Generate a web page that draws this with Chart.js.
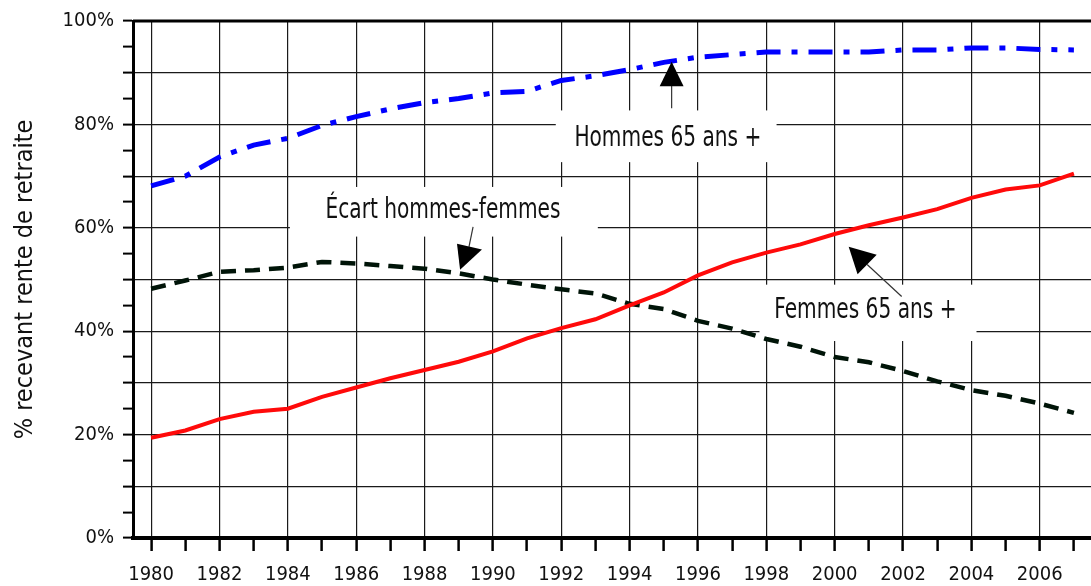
<!DOCTYPE html>
<html><head><meta charset="utf-8">
<script src="https://cdn.jsdelivr.net/npm/chart.js@4.4.1/dist/chart.umd.min.js"></script>
<style>html,body{margin:0;padding:0;background:#fff;}canvas{display:block;}</style>
</head><body>
<canvas id="c" width="1091" height="586"></canvas>
<script>
const years = [1980,1981,1982,1983,1984,1985,1986,1987,1988,1989,1990,1991,1992,1993,1994,1995,1996,1997,1998,1999,2000,2001,2002,2003,2004,2005,2006,2007];
const hommes = [68.1,70.0,73.7,76.0,77.3,79.8,81.5,83.0,84.2,85.0,86.1,86.4,88.5,89.4,90.6,92.0,93.0,93.5,94.0,94.0,94.0,94.0,94.4,94.4,94.8,94.8,94.5,94.4];
const femmes = [19.4,20.8,23.0,24.4,25.0,27.3,29.1,30.9,32.5,34.1,36.1,38.6,40.6,42.3,45.0,47.5,50.8,53.3,55.2,56.8,58.8,60.5,62.0,63.6,65.8,67.4,68.2,70.5];
const ecart = [48.2,49.8,51.5,51.8,52.3,53.4,53.1,52.6,52.1,51.2,50.0,49.0,48.1,47.3,45.3,44.3,42.0,40.5,38.5,37.0,35.0,34.0,32.3,30.3,28.6,27.5,26.0,24.2];
const yTickValues = [0,5,10,15,20,25,30,35,40,45,50,55,60,65,70,75,80,85,90,95,100];
const yTitle = "% recevant rente de retraite";
const labelHommes = "Hommes 65 ans +";
const labelFemmes = "Femmes 65 ans +";
const labelEcart = "Écart hommes-femmes";

const FONT = "'Liberation Sans Narrow','DejaVu Sans Condensed','Arial Narrow',sans-serif";

// annotation geometry in data units
const notes = [
  {text: labelEcart, box:[1984.06,1993.07,67.9,58.3], tc:[1988.54,63.4],
   line:[[1989.42,60.2],[1989.3,56.3]], tri:[[1989.04,51.9],[1988.95,56.9],[1989.68,55.8]]},
  {text: labelHommes, box:[1991.84,1998.3,82.7,72.7], tc:[1995.12,77.3],
   line:[[1995.23,83.1],[1995.23,87.5]], tri:[[1995.23,92.1],[1994.88,87.4],[1995.58,87.4]]},
  {text: labelFemmes, box:[1997.8,2004.15,49.0,38.1], tc:[2000.9,44.0],
   line:[[2001.96,46.7],[2000.95,52.9]], tri:[[2000.41,56.35],[2001.23,54.8],[2000.67,51.0]]}
];

const annot = {
  id:'annot',
  beforeDatasetsDraw(chart){
    const {ctx, scales:{x,y}} = chart;
    ctx.save();
    notes.forEach(n=>{
      const x0=x.getPixelForValue(n.box[0]), x1=x.getPixelForValue(n.box[1]);
      const y0=y.getPixelForValue(n.box[2]), y1=y.getPixelForValue(n.box[3]);
      ctx.fillStyle='#fff';
      ctx.fillRect(x0,y0,x1-x0,y1-y0);
      const cx=x.getPixelForValue(n.tc[0]), cy=y.getPixelForValue(n.tc[1]);
      ctx.save();
      ctx.translate(cx,cy); ctx.scale(0.8,1);
      ctx.fillStyle='#111';
      ctx.font='28px '+FONT;
      ctx.textAlign='center'; ctx.textBaseline='middle';
      ctx.fillText(n.text, 0, 0);
      ctx.restore();
    });
    ctx.restore();
  },
  afterDatasetsDraw(chart){
    const {ctx, scales:{x,y}, chartArea} = chart;
    ctx.save();
    notes.forEach(n=>{
      ctx.strokeStyle='#333'; ctx.lineWidth=1.2;
      ctx.beginPath();
      ctx.moveTo(x.getPixelForValue(n.line[0][0]), y.getPixelForValue(n.line[0][1]));
      ctx.lineTo(x.getPixelForValue(n.line[1][0]), y.getPixelForValue(n.line[1][1]));
      ctx.stroke();
      ctx.fillStyle='#000';
      ctx.beginPath();
      n.tri.forEach((p,i)=>{const px=x.getPixelForValue(p[0]),py=y.getPixelForValue(p[1]); i?ctx.lineTo(px,py):ctx.moveTo(px,py);});
      ctx.closePath(); ctx.fill();
    });
    ctx.strokeStyle='#000'; ctx.lineWidth=3;
    ctx.beginPath(); ctx.moveTo(chartArea.left, chartArea.top); ctx.lineTo(chart.width, chartArea.top); ctx.stroke();
    ctx.restore();
  }
};

new Chart(document.getElementById('c'), {
  type:'line',
  data:{
    labels: years,
    datasets:[
      {label:labelHommes, data: years.map((v,i)=>({x:v,y:hommes[i]})), borderColor:'#0000ff', borderWidth:5, borderDash:[24,11,6,11], pointRadius:0, tension:0, borderCapStyle:'butt'},
      {label:labelFemmes, data: years.map((v,i)=>({x:v,y:femmes[i]})), borderColor:'#ff0a0a', borderWidth:4, pointRadius:0, tension:0},
      {label:labelEcart, data: years.map((v,i)=>({x:v,y:ecart[i]})), borderColor:'#001408', borderWidth:4.5, borderDash:[15,9], pointRadius:0, tension:0}
    ]
  },
  options:{
    responsive:false, animation:false, devicePixelRatio:1,
    layout:{padding:{top:17,right:0,left:0,bottom:0}},
    plugins:{legend:{display:false}, tooltip:{enabled:false}},
    scales:{
      x:{type:'linear', min:1979.47, max:2007.5,
        afterBuildTicks(s){ s.ticks = years.map(v=>({value:v})); },
        afterFit(s){ s.height = 48; },
        ticks:{autoSkip:false, maxRotation:0, padding:12, color:'#111', font:{family:FONT,size:20},
          callback:(v)=> (v%2===0 ? String(v) : '')},
        grid:{color:(c)=> (c.tick && c.tick.value%2===0 ? '#1a1a1a' : 'rgba(0,0,0,0)'), lineWidth:1.2,
          tickColor:'#000', tickLength:13, tickWidth:2.5, drawTicks:true},
        border:{display:true, color:'#000', width:4}
      },
      y:{min:0, max:100,
        afterBuildTicks(s){ s.ticks = yTickValues.map(v=>({value:v})); },
        afterFit(s){ s.width = 133; },
        ticks:{autoSkip:false, padding:9, color:'#111', font:{family:FONT,size:20},
          callback:(v)=> (v%20===0 ? v+'%' : '')},
        grid:{color:(c)=> (c.tick && c.tick.value%10===0 ? '#1a1a1a' : 'rgba(0,0,0,0)'), lineWidth:1.2,
          tickColor:'#000', tickLength:10, tickWidth:2, drawTicks:true},
        border:{display:true, color:'#000', width:3},
        title:{display:true, text:yTitle, color:'#111', font:{family:FONT,size:25}, padding:{top:10,bottom:0}}
      }
    }
  },
  plugins:[annot]
});
</script>
</body></html>
